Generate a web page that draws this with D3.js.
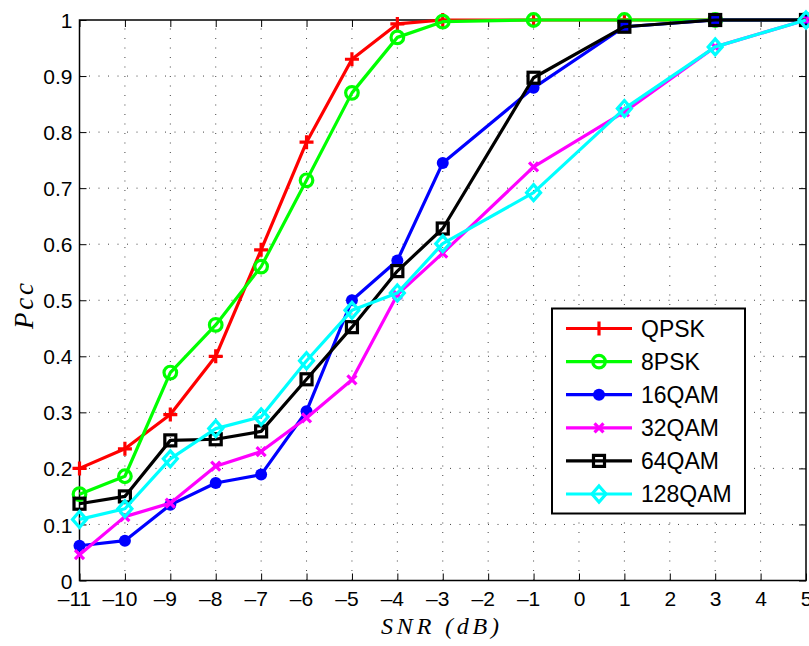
<!DOCTYPE html>
<html>
<head>
<meta charset="utf-8">
<script src="https://cdn.jsdelivr.net/npm/d3@7"></script>
<style>
  body { margin: 0; background: #fff; }
  svg text { font-family: "Liberation Sans", Arial, Helvetica, sans-serif; }
</style>
</head>
<body>
<div id="chart"></div>
<script>
// x values (SNR in dB) shared by every curve
const snr = [-11, -10, -9, -8, -7, -6, -5, -4, -3, -1, 1, 3, 5];

// Pcc, one array per modulation
const qpsk   = [0.200, 0.235, 0.296, 0.400, 0.590, 0.782, 0.930, 0.993, 1.000, 1.000, 1.000, 1.000, 1.000];
const psk8   = [0.154, 0.186, 0.371, 0.456, 0.560, 0.714, 0.870, 0.969, 0.997, 1.000, 1.000, 1.000, 1.000];
const qam16  = [0.062, 0.071, 0.135, 0.174, 0.189, 0.302, 0.500, 0.571, 0.745, 0.879, 0.988, 1.000, 1.000];
const qam32  = [0.046, 0.114, 0.138, 0.204, 0.230, 0.290, 0.358, 0.510, 0.584, 0.738, 0.836, 0.952, 1.000];
const qam64  = [0.137, 0.150, 0.250, 0.252, 0.266, 0.359, 0.452, 0.552, 0.628, 0.897, 0.988, 1.000, 1.000];
const qam128 = [0.109, 0.128, 0.217, 0.271, 0.292, 0.392, 0.482, 0.513, 0.601, 0.692, 0.842, 0.952, 1.000];

const names = ["QPSK", "8PSK", "16QAM", "32QAM", "64QAM", "128QAM"];
const colors = ["#ff0000", "#00ff00", "#0000ff", "#ff00ff", "#000000", "#00ffff"];
const markers = ["plus", "circle", "dot", "cross", "square", "diamond"];

const xTicks = d3.range(-11, 6, 1);
const yTicks = d3.range(0, 11).map((i) => i / 10);

const series = [qpsk, psk8, qam16, qam32, qam64, qam128].map((vals, i) => ({
  name: names[i],
  color: colors[i],
  marker: markers[i],
  points: vals.map((v, j) => ({ x: snr[j], y: v }))
}));

const w = 809, h = 646;
const padL = 79.5, padR = 806, padT = 20, padB = 580.5;

const xScale = d3.scaleLinear().domain([-11, 5]).range([padL, padR]);
const yScale = d3.scaleLinear().domain([0, 1]).range([padB, padT]);

const svg = d3.select("#chart").append("svg")
  .attr("width", w).attr("height", h);

// dotted grid
svg.append("g").selectAll("line").data(xTicks.slice(1, -1)).enter().append("line")
  .attr("x1", (d) => xScale(d)).attr("x2", (d) => xScale(d))
  .attr("y1", padB).attr("y2", padT)
  .attr("stroke", "#444").attr("stroke-width", 1).attr("stroke-dasharray", "1,8.5");
svg.append("g").selectAll("line").data(yTicks.slice(1, -1)).enter().append("line")
  .attr("y1", (d) => yScale(d)).attr("y2", (d) => yScale(d))
  .attr("x1", padL).attr("x2", padR)
  .attr("stroke", "#444").attr("stroke-width", 1).attr("stroke-dasharray", "1,8.5");

// axes, ticks pointing inward on all four sides
const tl = 7;
const xAxisB = d3.axisBottom(xScale).tickValues(xTicks).tickSizeInner(-tl).tickSizeOuter(0)
  .tickFormat((d) => d < 0 ? "\u2013" + Math.abs(d) : d);
const xAxisT = d3.axisTop(xScale).tickValues(xTicks).tickSizeInner(-tl).tickSizeOuter(0).tickFormat("");
const yAxisL = d3.axisLeft(yScale).tickValues(yTicks).tickSizeInner(-tl).tickSizeOuter(0)
  .tickFormat((d) => d3.format("")(+d.toFixed(1)));
const yAxisR = d3.axisRight(yScale).tickValues(yTicks).tickSizeInner(-tl).tickSizeOuter(0).tickFormat("");

const gx = svg.append("g").attr("transform", `translate(0,${padB})`).call(xAxisB);
gx.selectAll("text").attr("font-size", 21).attr("fill", "#000")
  .attr("dy", null)
  .attr("dx", (d) => d < 0 ? -5.5 : 0)
  .attr("y", 25.5);
svg.append("g").attr("transform", `translate(0,${padT})`).call(xAxisT);
const gy = svg.append("g").attr("transform", `translate(${padL},0)`).call(yAxisL);
gy.selectAll("text").attr("font-size", 21).attr("fill", "#000").attr("x", -7).attr("dy", "0.36em");
svg.append("g").attr("transform", `translate(${padR},0)`).call(yAxisR);

svg.selectAll(".domain").remove();
svg.selectAll(".tick line").attr("stroke", "#000").attr("stroke-width", 1);

svg.append("rect")
  .attr("x", padL).attr("y", padT)
  .attr("width", padR - padL).attr("height", padB - padT)
  .attr("fill", "none").attr("stroke", "#000").attr("stroke-width", 1.5);

// marker drawing helper
function drawMarker(g, type, cx, cy, color) {
  if (type === "plus") {
    g.append("path").attr("d", `M${cx - 7},${cy}H${cx + 7}M${cx},${cy - 7}V${cy + 7}`)
      .attr("stroke", color).attr("stroke-width", 3.2).attr("fill", "none");
  } else if (type === "circle") {
    g.append("circle").attr("cx", cx).attr("cy", cy).attr("r", 6.3)
      .attr("stroke", color).attr("stroke-width", 3.2).attr("fill", "none");
  } else if (type === "dot") {
    g.append("circle").attr("cx", cx).attr("cy", cy).attr("r", 6).attr("fill", color);
  } else if (type === "cross") {
    g.append("path").attr("d", `M${cx - 4.5},${cy - 4.5}L${cx + 4.5},${cy + 4.5}M${cx - 4.5},${cy + 4.5}L${cx + 4.5},${cy - 4.5}`)
      .attr("stroke", color).attr("stroke-width", 3.2).attr("fill", "none");
  } else if (type === "square") {
    g.append("rect").attr("x", cx - 5.5).attr("y", cy - 5.5).attr("width", 11).attr("height", 11)
      .attr("stroke", color).attr("stroke-width", 3.2).attr("fill", "none");
  } else if (type === "diamond") {
    g.append("path").attr("d", `M${cx},${cy - 8}L${cx + 7},${cy}L${cx},${cy + 8}L${cx - 7},${cy}Z`)
      .attr("stroke", color).attr("stroke-width", 3.2).attr("fill", "none");
  }
}

const line = d3.line().x((d) => xScale(d.x)).y((d) => yScale(d.y));

series.forEach((s) => {
  const g = svg.append("g");
  g.append("path").datum(s.points).attr("d", line)
    .attr("fill", "none").attr("stroke", s.color).attr("stroke-width", 3.2)
    .attr("stroke-linejoin", "round");
  s.points.forEach((p) => drawMarker(g, s.marker, xScale(p.x), yScale(p.y), s.color));
});

// legend
const lg = svg.append("g");
lg.append("rect").attr("x", 552).attr("y", 308.5).attr("width", 193).attr("height", 205)
  .attr("fill", "#fff").attr("stroke", "#000").attr("stroke-width", 2);
series.forEach((s, i) => {
  const yy = 328.5 + i * 33.1;
  lg.append("line").attr("x1", 566).attr("x2", 632).attr("y1", yy).attr("y2", yy)
    .attr("stroke", s.color).attr("stroke-width", 3.2);
  drawMarker(lg, s.marker, 599, yy, s.color);
  lg.append("text").attr("x", 641).attr("y", yy).attr("dy", "0.36em")
    .attr("font-size", 23).attr("fill", "#000").text(s.name);
});

// axis labels
svg.append("text")
  .attr("x", 440).attr("y", 634).attr("text-anchor", "middle")
  .attr("textLength", 118).attr("lengthAdjust", "spacing")
  .style("font-family", "'Liberation Serif', 'DejaVu Serif', serif")
  .style("font-style", "italic").attr("font-size", 24)
  .text("SNR (dB)");

svg.append("text")
  .attr("transform", "translate(33,306) rotate(-90)")
  .attr("text-anchor", "middle")
  .attr("textLength", 46).attr("lengthAdjust", "spacing")
  .style("font-family", "'Liberation Serif', 'DejaVu Serif', serif")
  .style("font-style", "italic").attr("font-size", 27)
  .text("Pcc");
</script>
</body>
</html>
